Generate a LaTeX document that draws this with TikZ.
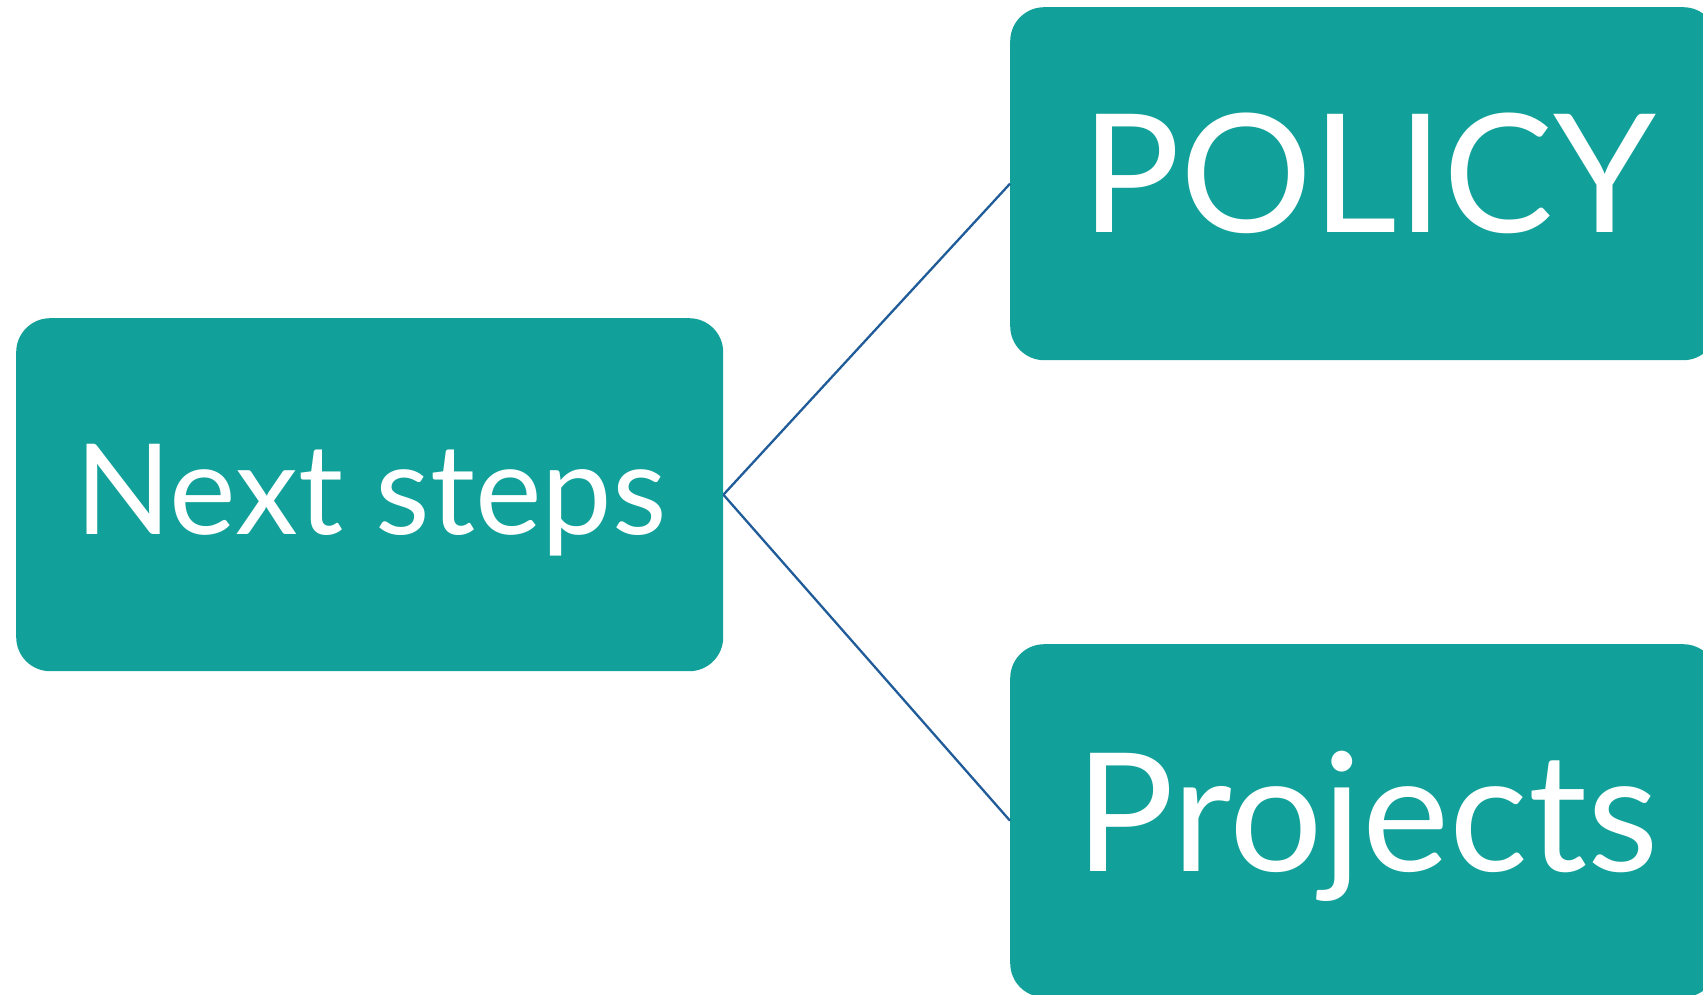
\documentclass[tikz,border=0pt]{standalone}
\usepackage{fontspec}
\setmainfont{Lato}
\definecolor{teal1}{HTML}{12A19A}
\definecolor{link}{HTML}{1F5C99}
\tikzset{
  box/.style={fill=teal1, rounded corners=34pt, minimum width=707pt, minimum height=353pt, inner sep=0pt, anchor=north west},
  lbl/.style={text=white, anchor=base, inner sep=0pt},
  small/.style={font=\fontsize{126}{126}\selectfont},
  big/.style={font=\fontsize{165}{165}\selectfont},
  conn/.style={draw=link, line width=2.3pt}
}
\begin{document}
\begin{tikzpicture}[x=1pt,y=-1pt]
\clip (0,0) rectangle (1703,995);
\useasboundingbox (0,0) rectangle (1703,995);
\fill[white] (0,0) rectangle (1703,995);
\node[box] (next) at (16,318) {};
\node[box] (policy) at (1010,7) {};
\node[box] (proj) at (1010,644) {};
\draw[conn] (next.east) -- (policy.west);
\draw[conn] (next.east) -- (proj.west);
\node[lbl,small] (tnext) at (371,534) {Next steps};
\node[lbl,big] (tpolicy) at (1369,233) {POLICY};
\node[lbl,big] (tproj) at (1367,871) {Projects};
\end{tikzpicture}
\end{document}
